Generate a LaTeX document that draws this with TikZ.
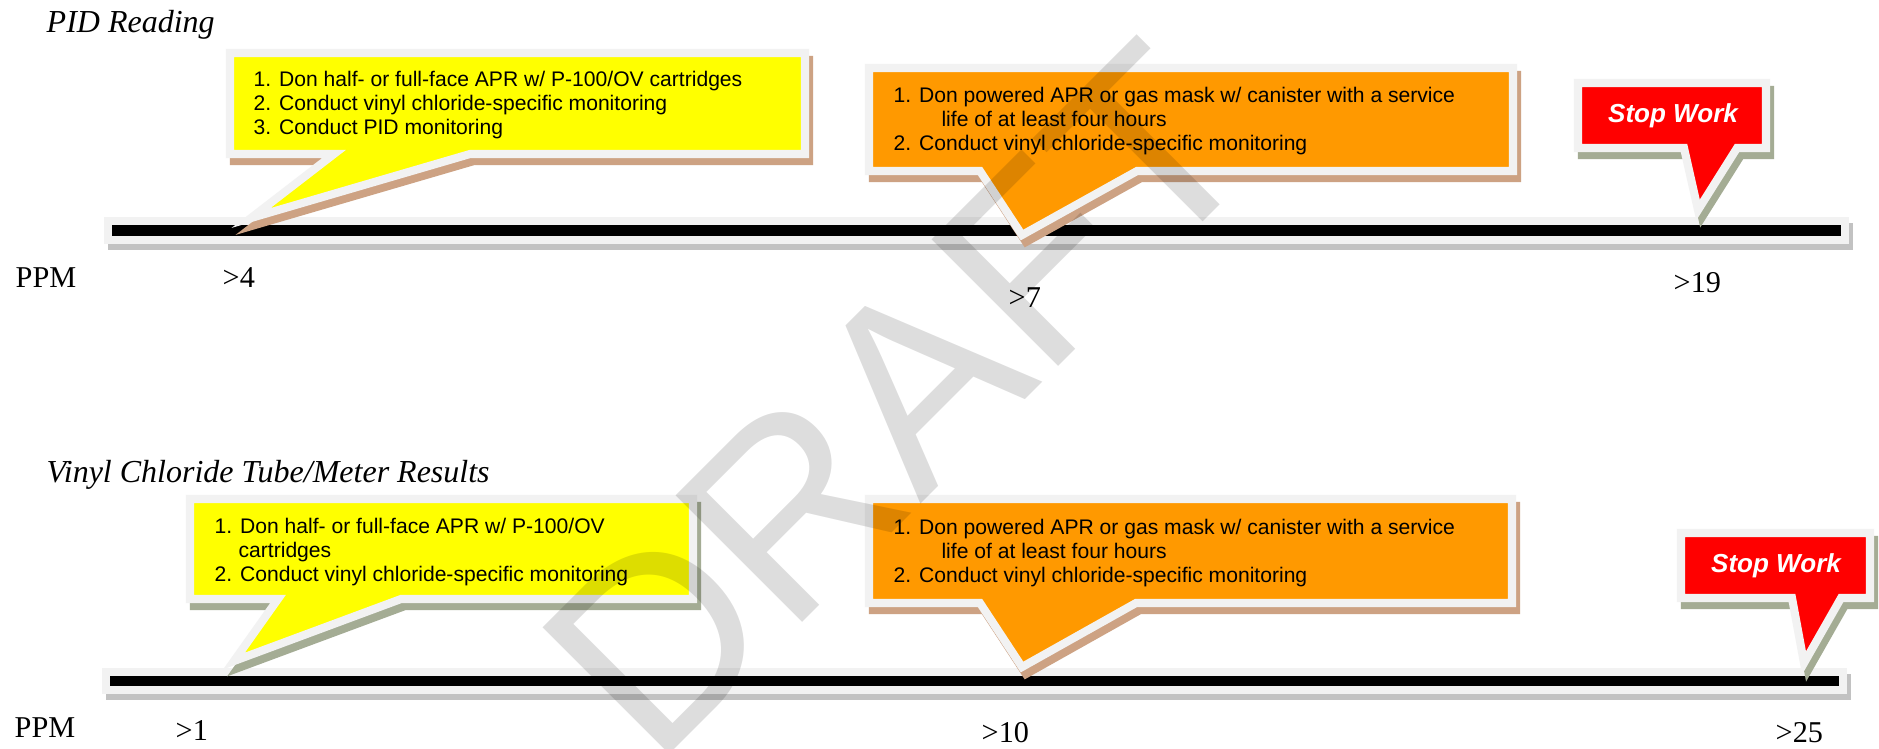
\documentclass[tikz,border=0pt]{standalone}
\usepackage{fontspec}
\setmainfont{Liberation Serif}
\newfontfamily\arialfont{Liberation Sans}
\definecolor{rimgray}{HTML}{F2F2F2}
\definecolor{tanshade}{HTML}{CDA283}
\definecolor{sageshade}{HTML}{A4AC94}
\definecolor{barshade}{HTML}{C2C2C2}
\definecolor{noteyellow}{HTML}{FFFF00}
\definecolor{noteorange}{HTML}{FF9900}
\definecolor{notered}{HTML}{FF0000}
\tikzset{
  rim/.style={draw=rimgray,line width=2.3pt},
  headline/.style={font=\fontsize{9.1}{10}\selectfont\itshape,anchor=base west,inner sep=0},
  ppmlabel/.style={font=\fontsize{8.6}{10}\selectfont,anchor=base west,inner sep=0},
  stepstext/.style={font=\arialfont\fontsize{6}{6.8}\selectfont,align=left,anchor=north west,inner sep=0},
  stoptext/.style={font=\arialfont\fontsize{7.4}{8}\selectfont\bfseries\itshape,text=white,anchor=base,inner sep=0},
  watermark/.style={font=\arialfont\fontsize{74}{80}\selectfont,text=black,text opacity=0.135,rotate=45,inner sep=0}
}
\newcommand{\balloon}[3]{%
  \filldraw[#2,line width=2.3pt,shift={(4,7)}] #3;
  \filldraw[rim,fill=#1] #3;}
\begin{document}
\begin{tikzpicture}[x=0.01cm,y=-0.01cm]
\useasboundingbox (0,0) rectangle (1879,748);
\fill[white] (0,0) rectangle (1879,748);
\node[headline] (pidtitle) at (46,32) {PID Reading};
\node[headline] (vctitle) at (46,482) {Vinyl Chloride Tube/Meter Results};
\filldraw[barshade,line width=2.3pt,shift={(4,6)}] (108,221) rectangle (1845,240);
\filldraw[rim,fill=black] (108,221) rectangle (1845,240);
\filldraw[barshade,line width=2.3pt,shift={(4,6)}] (106,672) rectangle (1843,690);
\filldraw[rim,fill=black] (106,672) rectangle (1843,690);
\balloon{noteyellow}{tanshade}{(230,53) -- (805,53) -- (805,154) -- (470,154) -- (251,218) -- (334,154) -- (230,154) -- cycle}
\balloon{noteorange}{tanshade}{(869,68) -- (1513,68) -- (1513,171) -- (1137,171) -- (1022,235) -- (980,171) -- (869,171) -- cycle}
\balloon{notered}{sageshade}{(1578,83) -- (1766,83) -- (1766,148) -- (1737,148) -- (1698,210) -- (1684,148) -- (1578,148) -- cycle}
\balloon{noteyellow}{sageshade}{(190,499) -- (693,499) -- (693,599) -- (401,599) -- (234,661) -- (278,599) -- (190,599) -- cycle}
\balloon{noteorange}{tanshade}{(869,499) -- (1512,499) -- (1512,603) -- (1136,603) -- (1022,667) -- (980,603) -- (869,603) -- cycle}
\balloon{notered}{sageshade}{(1681,533) -- (1870,533) -- (1870,598) -- (1841,598) -- (1804,663) -- (1792,598) -- (1681,598) -- cycle}
\node[stepstext] (pidlow) at (253,70.5) {1. Don half- or full-face APR w/ P-100/OV cartridges\\2. Conduct vinyl chloride-specific monitoring\\3. Conduct PID monitoring};
\node[stepstext] (pidmid) at (893,86.5) {1. Don powered APR or gas mask w/ canister with a service\\\hspace*{13.6pt}life of at least four hours\\2. Conduct vinyl chloride-specific monitoring};
\node[stoptext] (pidstop) at (1673,122) {Stop Work};
\node[stepstext] (vclow) at (214,517.5) {1. Don half- or full-face APR w/ P-100/OV\\\hspace*{6.8pt}cartridges\\2. Conduct vinyl chloride-specific monitoring};
\node[stepstext] (vcmid) at (893,518.5) {1. Don powered APR or gas mask w/ canister with a service\\\hspace*{13.6pt}life of at least four hours\\2. Conduct vinyl chloride-specific monitoring};
\node[stoptext] (vcstop) at (1776,572) {Stop Work};
\node[ppmlabel] (pidppm) at (15,287) {PPM};
\node[ppmlabel] (pidfour) at (222,287) {>4};
\node[ppmlabel] (pidseven) at (1008,307) {>7};
\node[ppmlabel] (pidnineteen) at (1673,292) {>19};
\node[ppmlabel] (vcppm) at (14,737) {PPM};
\node[ppmlabel] (vcone) at (175,740) {>1};
\node[ppmlabel] (vcten) at (981,742) {>10};
\node[ppmlabel] (vctwentyfive) at (1775,742) {>25};
\node[watermark] (draft) at (898,400) {DRAFT};
\end{tikzpicture}
\end{document}
